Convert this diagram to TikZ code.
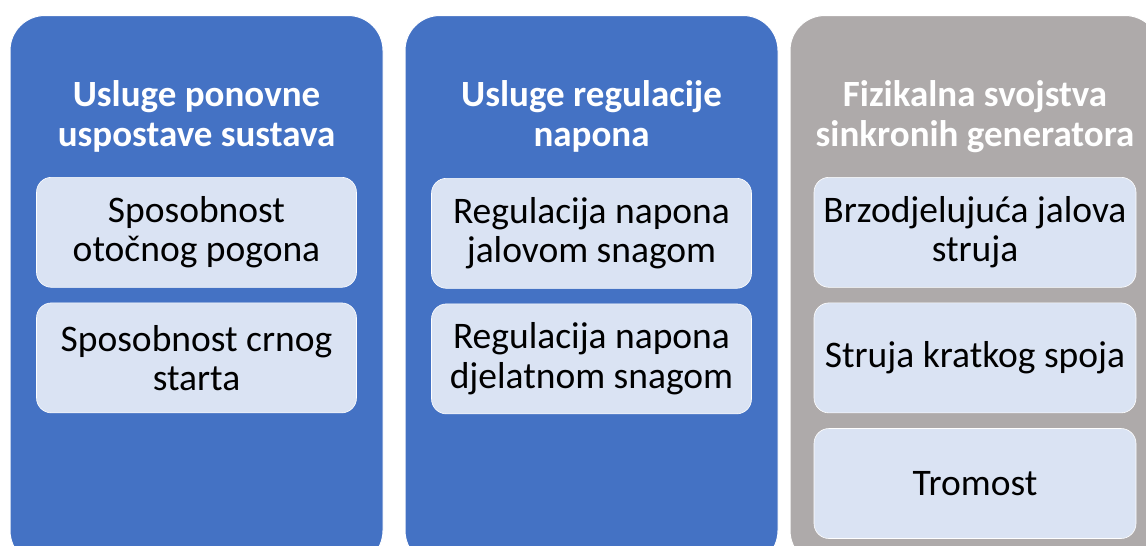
\documentclass[tikz,border=0pt]{standalone}
\usepackage{fontspec}
\setmainfont{Carlito}
\usetikzlibrary{positioning}
\definecolor{colblue}{HTML}{4472C4}
\definecolor{colgray}{HTML}{AEAAAA}
\definecolor{itemfill}{HTML}{DAE3F3}
\tikzstyle{column} = [rectangle, rounded corners=35pt, minimum width=373pt, minimum height=550pt,
draw=white, line width=1pt, anchor=north]
\tikzstyle{title} = [text=white, inner sep=0pt, align=center,
font=\fontsize{37}{40}\selectfont\bfseries]
\tikzstyle{item} = [rectangle, rounded corners=15pt, minimum width=320pt, minimum height=110pt,
inner sep=2pt, fill=itemfill, draw=white, line width=0.6pt, align=center, text=black,
font=\fontsize{37.5}{39.5}\selectfont]

\begin{document}
\begin{tikzpicture}[x=1pt, y=-1pt, node distance=15pt]
\path[use as bounding box, clip] (0,0) rectangle (1146,546);

% ------------------------- columns -------------------------

% ----- column: restoration
\node(col1)[column, fill=colblue] at (196.5,15) {};
\node(t1)[title, below=65pt of col1.north] {Usluge ponovne\\uspostave sustava};
\node(s1)[item, below=162pt of col1.north] {Sposobnost\\otočnog pogona};
\node(s2)[item, below=of s1] {Sposobnost crnog\\starta};
% ----- column: voltage
\node(col2)[column, fill=colblue] at (591.5,15) {};
\node(t2)[title, below=65pt of col2.north] {Usluge regulacije\\napona};
\node(v1)[item, below=163pt of col2.north] {Regulacija napona\\jalovom snagom};
\node(v2)[item, below=of v1] {Regulacija napona\\djelatnom snagom};
% ----- column: generators
\node(col3)[column, fill=colgray, minimum width=370pt] at (975,15) {};
\node(t3)[title, below=65pt of col3.north] {Fizikalna svojstva\\sinkronih generatora};
\node(g1)[item, minimum width=322pt, below=162pt of col3.north] {Brzodjelujuća jalova\\struja};
\node(g2)[item, minimum width=322pt, below=of g1] {Struja kratkog spoja};
\node(g3)[item, minimum width=322pt, below=of g2] {Tromost};

\end{tikzpicture}
\end{document}
